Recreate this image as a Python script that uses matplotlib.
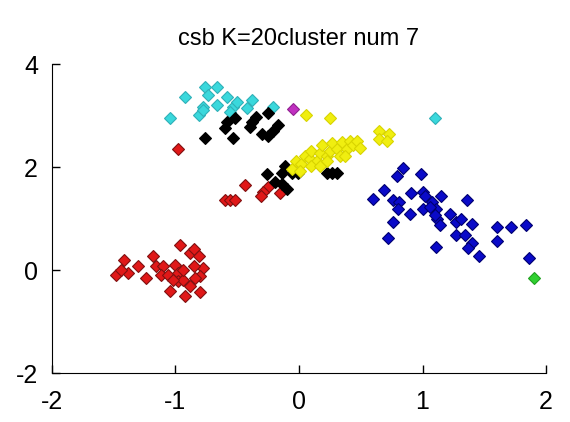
import matplotlib
matplotlib.use("Agg")
import matplotlib.pyplot as plt

plt.rcParams['font.family'] = ['Liberation Sans Narrow', 'Liberation Sans', 'DejaVu Sans']
plt.rcParams['axes.unicode_minus'] = False

# cluster points
red_x = [-0.98, -0.44, -0.25, -0.29, -0.31, -0.15, -0.60, -0.56, -0.52,
         -1.48, -1.42, -1.38, -1.44, -1.30, -1.24, -1.18, -1.16, -1.10, -1.12,
         -1.06, -1.04, -1.00, -0.98, -0.96, -0.98, -0.94, -0.88, -0.85, -0.81,
         -0.78, -0.85, -0.88, -0.80, -0.92, -0.80, -0.84, -0.94, -1.02]
red_y = [2.36, 1.66, 1.62, 1.52, 1.43, 1.49, 1.37, 1.37, 1.37,
         -0.10, 0.20, -0.06, 0.00, 0.08, -0.16, 0.28, 0.08, 0.08, -0.10,
         -0.10, -0.40, 0.10, -0.06, 0.48, -0.22, -0.20, 0.34, 0.40, 0.28,
         0.04, 0.08, -0.30, -0.42, -0.51, -0.12, -0.16, 0.00, -0.20]

cyan_x = [-1.04, -0.92, -0.76, -0.66, -0.74, -0.66, -0.78, -0.81, -0.58,
          -0.53, -0.56, -0.38, -0.42, -0.21, -0.50, -0.78, 1.10]
cyan_y = [2.95, 3.37, 3.56, 3.56, 3.41, 3.21, 3.17, 3.01, 3.37,
          3.17, 3.07, 3.31, 3.15, 3.17, 3.27, 3.11, 2.95]

black_x = [-0.76, -0.58, -0.60, -0.53, -0.38, -0.35, -0.40, -0.25, -0.17,
           -0.30, -0.25, -0.21, -0.52,
           -0.26, -0.14, -0.11, -0.14, -0.10, -0.06, -0.01, 0.23, 0.27, 0.31, -0.19]
black_y = [2.57, 2.87, 2.75, 2.57, 2.87, 2.97, 2.77, 3.05, 2.81,
           2.65, 2.61, 2.71, 2.95,
           1.86, 1.88, 2.02, 1.68, 1.58, 1.88, 1.88, 1.88, 1.88, 1.88, 1.72]

magenta_x = [-0.05]
magenta_y = [3.13]

yellow_x = [-0.06, -0.02, 0.02, 0.05, 0.09, 0.10, 0.15, 0.17, 0.19, 0.23,
            0.25, 0.27, 0.31, 0.33, 0.35, 0.39, 0.41, 0.44, 0.47, 0.49,
            0.10, 0.17, 0.01, 0.23, 0.37,
            0.06, 0.25, 0.65, 0.73, 0.65, 0.71]
yellow_y = [1.96, 2.12, 2.06, 2.22, 2.16, 2.32, 2.12, 2.28, 2.42, 2.22,
            2.32, 2.46, 2.36, 2.22, 2.48, 2.36, 2.51, 2.42, 2.51, 2.38,
            2.02, 2.02, 1.92, 2.12, 2.22,
            3.01, 2.95, 2.71, 2.65, 2.55, 2.51]

blue_x = [0.60, 0.69, 0.79, 0.84, 0.76, 0.81, 0.80, 0.76, 0.72, 0.91,
          0.90, 0.99, 1.00, 1.02, 1.00, 1.08, 1.11, 1.12, 1.14, 1.15,
          1.11, 1.22, 1.27, 1.27, 1.36, 1.31, 1.40, 1.34, 1.40, 1.37,
          1.46, 1.60, 1.60, 1.72, 1.84, 1.86, 1.06, 1.10]
blue_y = [1.39, 1.56, 1.82, 1.98, 1.37, 1.33, 1.19, 0.93, 0.63, 1.49,
          1.09, 1.86, 1.52, 1.43, 1.19, 1.33, 1.19, 0.99, 0.87, 1.43,
          0.44, 1.09, 0.93, 0.69, 1.37, 0.99, 0.89, 0.69, 0.53, 0.42,
          0.28, 0.83, 0.57, 0.83, 0.87, 0.24, 1.23, 1.07]

green_x = [1.90]
green_y = [-0.16]

fig = plt.figure(figsize=(5.7, 4.22), dpi=100)
ax = fig.add_axes([0.091, 0.116, 0.867, 0.732])

groups = [
    (red_x, red_y, '#e01818', '#801010'),
    (cyan_x, cyan_y, '#3ad8dc', '#30b0b8'),
    (black_x, black_y, '#000000', '#000000'),
    (magenta_x, magenta_y, '#c030c0', '#902090'),
    (yellow_x, yellow_y, '#f0ee10', '#d8d400'),
    (blue_x, blue_y, '#0a0ac8', '#000070'),
    (green_x, green_y, '#30d030', '#20a020'),
]
for gx, gy, c, ec in groups:
    ax.plot(gx, gy, 'D', color=c, markersize=6, markeredgewidth=0.8,
            markeredgecolor=ec)

ax.set_xlim(-2, 2)
ax.set_ylim(-2, 4)
ax.set_xticks([-2, -1, 0, 1, 2])
ax.set_yticks([-2, 0, 2, 4])
ax.spines['top'].set_visible(False)
ax.spines['right'].set_visible(False)
ax.tick_params(direction='in', length=6, width=1, labelsize=18)
ax.tick_params(axis='x', pad=12)
ax.tick_params(axis='y', pad=10)
ax.set_title('csb K=20cluster num 7', fontsize=17, pad=14)

fig.savefig('out.png', dpi=100)
